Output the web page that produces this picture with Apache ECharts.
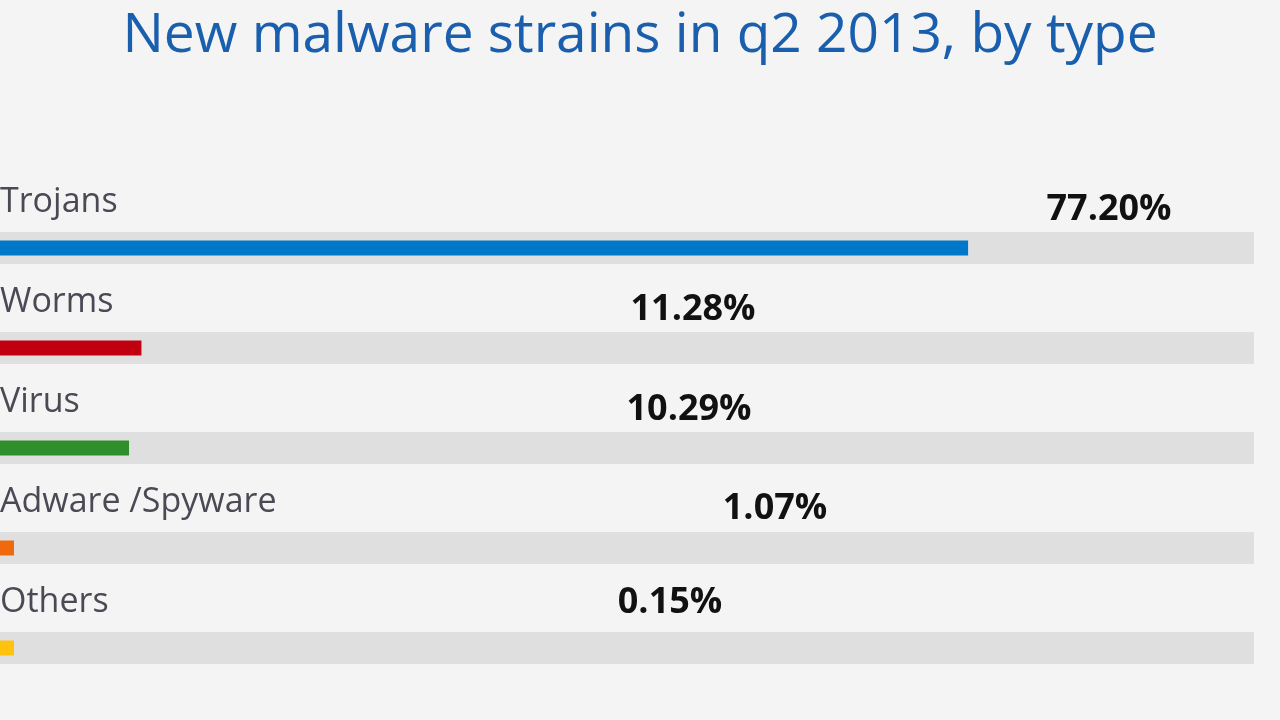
<!DOCTYPE html>
<html>
<head>
<meta charset="utf-8">
<title>New malware strains in q2 2013, by type</title>
<script src="https://cdn.jsdelivr.net/npm/echarts@6/dist/echarts.min.js"></script>
<style>
	html, body { margin: 0; padding: 0; background: #f4f4f4; }
	#chart { width: 1280px; height: 720px; }
</style>
</head>
<body>
<div id="chart"></div>
<script>
// data
var categories = ['Trojans', 'Worms', 'Virus', 'Adware /Spyware', 'Others'];
var shares = [77.20, 11.28, 10.29, 1.07, 0.15];
var trackMax = [100, 100, 100, 100, 100];
var barColors = ['#0078c9', '#c00010', '#2f8f2a', '#ee6a0c', '#ffc20e'];

// where the percent labels sit, relative to each coloured bar (layout only)
var valueLabelPos = [[1109, -31], [693, -31], [689, -31], [775, -32], [670, -38]];

var myChart = echarts.init(document.getElementById('chart'));

var option = {
	backgroundColor: '#f4f4f4',
	animation: false,
	title: {
		text: 'New malware strains in q2 2013, by type',
		left: 'center',
		top: 4,
		textStyle: {
			fontFamily: 'Open Sans',
			fontWeight: 'normal',
			fontSize: 55,
			color: '#1a5fad'
		}
	},
	grid: {
		left: 0,
		right: 26,
		top: 198,
		height: 500,
		containLabel: false
	},
	xAxis: {
		type: 'value',
		min: 0,
		max: 100,
		show: false
	},
	// two identical category axes so the track and the coloured bar are each centred in their band
	yAxis: [
		{ type: 'category', inverse: true, data: categories, show: false },
		{ type: 'category', inverse: true, data: categories, show: false }
	],
	series: [
		{
			// grey track with the category name above it
			type: 'bar',
			yAxisIndex: 0,
			barWidth: 32,
			silent: true,
			itemStyle: { color: '#dfdfdf' },
			label: {
				show: true,
				position: [0, -30],
				align: 'left',
				verticalAlign: 'middle',
				fontFamily: 'Open Sans',
				fontSize: 34,
				color: '#4a4a55',
				formatter: function (p) { return p.name; }
			},
			data: trackMax
		},
		{
			type: 'bar',
			yAxisIndex: 1,
			barWidth: 15,
			barMinHeight: 14,
			z: 3,
			data: shares.map(function (v, i) {
				return {
					value: v,
					itemStyle: { color: barColors[i] },
					label: {
						show: true,
						position: valueLabelPos[i],
						align: 'center',
						verticalAlign: 'middle',
						fontFamily: 'Open Sans',
						fontWeight: 'bold',
						fontSize: 36,
						color: '#111111',
						formatter: function (p) { return p.value.toFixed(2) + '%'; }
					}
				};
			})
		}
	]
};

myChart.setOption(option);
window.addEventListener('resize', function () {
	myChart.resize();
});
</script>
</body>
</html>
